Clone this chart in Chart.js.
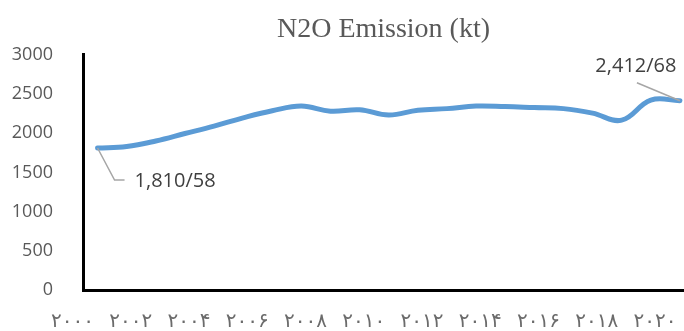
<!DOCTYPE html>
<html>
<head>
<meta charset="utf-8">
<script src="https://cdn.jsdelivr.net/npm/chart.js@4"></script>
<style>
  html, body { margin: 0; padding: 0; background: #fff; }
  #wrap { width: 684px; height: 331px; }
</style>
</head>
<body>
<div id="wrap"><canvas id="chart"></canvas></div>
<script>
"use strict";

// data
const years = [2000, 2001, 2002, 2003, 2004, 2005, 2006, 2007, 2008, 2009, 2010,
               2011, 2012, 2013, 2014, 2015, 2016, 2017, 2018, 2019, 2020];
const emissions = [1810.58, 1830, 1900, 1995, 2090, 2195, 2285, 2345, 2280, 2298, 2230,
                   2292, 2312, 2345, 2338, 2325, 2312, 2255, 2165, 2420, 2412.68];
const tickYears = [2000, 2002, 2004, 2006, 2008, 2010, 2012, 2014, 2016, 2018, 2020];
const yTicks = [0, 500, 1000, 1500, 2000, 2500, 3000];
const pointLabels = ['1,810/58', '2,412/68'];

const persianDigits = '۰۱۲۳۴۵۶۷۸۹';
const toPersian = (n) => String(n).replace(/[0-9]/g, d => persianDigits[d]);

// leader lines + value labels on first and last point
const endLabels = {
    id: 'endLabels',
    afterDatasetsDraw(chart) {
        const ctx = chart.ctx;
        const pts = chart.getDatasetMeta(0).data;
        const first = pts[0];
        const last = pts[pts.length - 1];
        ctx.save();
        ctx.strokeStyle = '#A6A6A6';
        ctx.lineWidth = 1.5;
        ctx.beginPath();
        ctx.moveTo(first.x, first.y);
        ctx.lineTo(first.x + 17, first.y + 32);
        ctx.lineTo(first.x + 27, first.y + 32);
        ctx.stroke();
        ctx.beginPath();
        ctx.moveTo(last.x, last.y);
        ctx.lineTo(last.x - 43, last.y - 18);
        ctx.stroke();

        ctx.fillStyle = '#404040';
        ctx.font = '20px "Open Sans", sans-serif';
        ctx.textBaseline = 'middle';
        ctx.textAlign = 'left';
        ctx.fillText(pointLabels[0], first.x + 37, first.y + 33);
        ctx.textAlign = 'center';
        ctx.fillText(pointLabels[1], last.x - 44, last.y - 34);
        ctx.restore();
    }
};

new Chart(document.getElementById('chart'), {
    type: 'line',
    data: {
        datasets: [{
            label: 'N2O Emission (kt)',
            data: years.map((y, i) => ({x: y, y: emissions[i]})),
            borderColor: '#5B9BD5',
            borderWidth: 5,
            borderCapStyle: 'round',
            pointRadius: 0,
            tension: 0.4,
            fill: false
        }]
    },
    options: {
        responsive: true,
        maintainAspectRatio: false,
        animation: false,
        layout: { padding: { left: 0, right: 0, top: 0, bottom: 0 } },
        plugins: {
            legend: { display: false },
            tooltip: { enabled: false },
            title: {
                display: true,
                text: 'N2O Emission (kt)',
                fullSize: false,
                color: '#595959',
                font: { family: '"Liberation Serif", "Times New Roman", serif', size: 28, weight: 'normal', lineHeight: 1.2 },
                padding: { top: 13, bottom: 8 }
            }
        },
        scales: {
            x: {
                type: 'linear',
                min: 1999.5,
                max: 2020.14,
                grid: { display: false, drawTicks: false },
                border: { display: true, color: '#000', width: 3 },
                afterBuildTicks: (scale) => {
                    scale.ticks = tickYears.map(v => ({value: v}));
                },
                afterFit: (scale) => {
                    scale.height = 38;
                    scale.paddingLeft = 0;
                    scale.paddingRight = 0;
                },
                ticks: {
                    autoSkip: false,
                    maxRotation: 0,
                    minRotation: 0,
                    padding: 20,
                    labelOffset: -25,
                    color: '#6b6b6b',
                    font: { family: '"DejaVu Sans", sans-serif', size: 20 },
                    callback: (v) => toPersian(v)
                }
            },
            y: {
                min: 0,
                max: 3000,
                grid: { display: false, drawTicks: false },
                border: { display: true, color: '#000', width: 3 },
                afterBuildTicks: (scale) => {
                    scale.ticks = yTicks.map(v => ({value: v}));
                },
                afterFit: (scale) => {
                    scale.width = 83;
                },
                ticks: {
                    padding: 30,
                    color: '#595959',
                    font: { family: '"Open Sans", sans-serif', size: 18 },
                    callback: (v) => String(v)
                }
            }
        }
    },
    plugins: [endLabels]
});
</script>
</body>
</html>
